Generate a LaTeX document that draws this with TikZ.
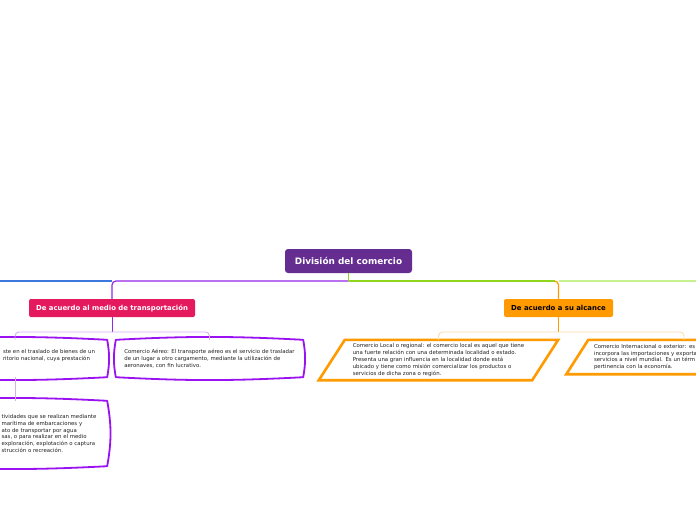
\documentclass[tikz,border=0pt]{standalone}
\usepackage{fontspec}
\setmainfont{DejaVu Sans}
\definecolor{rootpurple}{HTML}{662D91}
\definecolor{pinkred}{HTML}{E5195E}
\definecolor{amber}{HTML}{FF9A00}
\definecolor{violet}{HTML}{9526E8}
\definecolor{lilac}{HTML}{D6AEF6}
\definecolor{peach}{HTML}{FFDCA8}
\definecolor{leafgreen}{HTML}{8FD61C}
\definecolor{palegreen}{HTML}{C4F28E}
\definecolor{skyblue}{HTML}{3C78DC}
\definecolor{framepurple}{HTML}{9A12F2}
\definecolor{notegray}{HTML}{222222}
\tikzstyle{rootbox} = [
    rectangle,
    rounded corners=3pt,
    fill=rootpurple,
    text=white,
    font=\fontsize{8.9}{10}\selectfont\bfseries,
    minimum width=127,
    minimum height=24
]
\tikzstyle{topicbox} = [
    rectangle,
    rounded corners=2pt,
    minimum height=18,
    font=\fontsize{6.9}{8}\selectfont\bfseries
]
\tikzstyle{notebox} = [
    rectangle,
    inner xsep=0,
    inner ysep=0,
    align=left,
    text=notegray,
    font=\fontsize{5.4}{6.8}\selectfont
]
\tikzstyle{purpleframe} = [draw=framepurple, line width=1.8pt, line join=round]
\tikzstyle{amberframe} = [draw=amber, line width=2.6pt]
\tikzstyle{mainline} = [line width=1.2pt]
\tikzstyle{subline} = [line width=0.9pt]
\newcommand{\brushframe}[1]{\draw[purpleframe] (#1.north west) to[bend left=3] (#1.north east) to[bend left=10] (#1.south east) to[bend left=3] (#1.south west) to[bend left=10] cycle;}
\newcommand{\cutin}{\hspace*{68pt}}

\begin{document}
\begin{tikzpicture}[x=1pt, y=-1pt]

\fill[white] (0,0) rectangle (696,520);
\useasboundingbox (0,0) rectangle (696,520);

\node (root) [rootbox] at (348.5,261) {División del comercio};

\node (medio) [topicbox, fill=pinkred, text=white, minimum width=166] at (112,308)
{De acuerdo al medio de transportación};

\node (alcance) [topicbox, fill=amber, text=black, minimum width=109] at (558.5,308)
{De acuerdo a su alcance};

\node (terrestre) [notebox, minimum width=184, minimum height=37] at (15,358.5)
{\cutin ste en el traslado de bienes de un\\ \cutin ritorio nacional, cuya prestación\\ \mbox{}};

\node (aereo) [notebox, minimum width=187, minimum height=37] at (209.5,358.5)
{Comercio Aéreo: El transporte aéreo es el servicio de trasladar\\
de un lugar a otro cargamento, mediante la utilización de\\
aeronaves, con fin lucrativo.};

\node (maritimo) [notebox, minimum width=184, minimum height=65] at (15,433.5)
{\cutin tividades que se realizan mediante\\ \cutin marítima de embarcaciones y\\
\cutin ato de transportar por agua\\ \cutin sas, o para realizar en el medio\\
\cutin exploración, explotación o captura\\ \cutin strucción o recreación.};

\node (local) [notebox, minimum width=213, minimum height=40] at (438.5,360)
{Comercio Local o regional: el comercio local es aquel que tiene\\
una fuerte relación con una determinada localidad o estado.\\
Presenta una gran influencia en la localidad donde está\\
ubicado y tiene como misión comercializar los productos o\\
servicios de dicha zona o región.};

\node (inter) [notebox, text width=180, inner xsep=16.5, minimum height=34] at (684,357)
{Comercio Internacional o exterior: es\\
incorpora las importaciones y exporta\\
servicios a nivel mundial. Es un térm\\
pertinencia con la economía.};

% frames
\brushframe{terrestre}
\brushframe{aereo}
\brushframe{maritimo}
\draw[amberframe] ([xshift=13]local.north west) -- ([xshift=13]local.north east)
  -- ([xshift=-13]local.south east) -- ([xshift=-13]local.south west) -- cycle;
\draw[amberframe] ([xshift=11]inter.north west) -- ([xshift=11]inter.north east)
  -- ([xshift=-11]inter.south east) -- ([xshift=-11]inter.south west) -- cycle;

% connectors
\coordinate (hub) at (348.5,281);
\coordinate (westend) at (0,281);
\coordinate (eastend) at (696,281);
\coordinate (medfork) at (112,332);
\coordinate (alcfork) at (558.5,332);

\draw[mainline, skyblue] (medio.north |- hub) -- (westend);
\draw[mainline, violet, rounded corners=4] (hub) -| (medio.north);
\draw[mainline, palegreen] (alcance.north |- hub) -- (eastend);
\draw[mainline, leafgreen] (hub) -- ([xshift=-4]alcance.north |- hub);
\draw[mainline, amber, rounded corners=4] ([xshift=-4]alcance.north |- hub) -| (alcance.north);
\draw[mainline, leafgreen] (root.south) -- (hub);

\draw[subline, violet] (medio.south) -- (medfork);
\draw[subline, lilac, rounded corners=4] (terrestre.north) |- (medfork) -| (aereo.north);
\draw[subline, lilac] (terrestre.south) -- (maritimo.north);

\draw[subline, amber] (alcance.south) -- (alcfork);
\draw[subline, peach, rounded corners=4] (local.north) |- (alcfork) -| (inter.north);

\end{tikzpicture}
\end{document}
